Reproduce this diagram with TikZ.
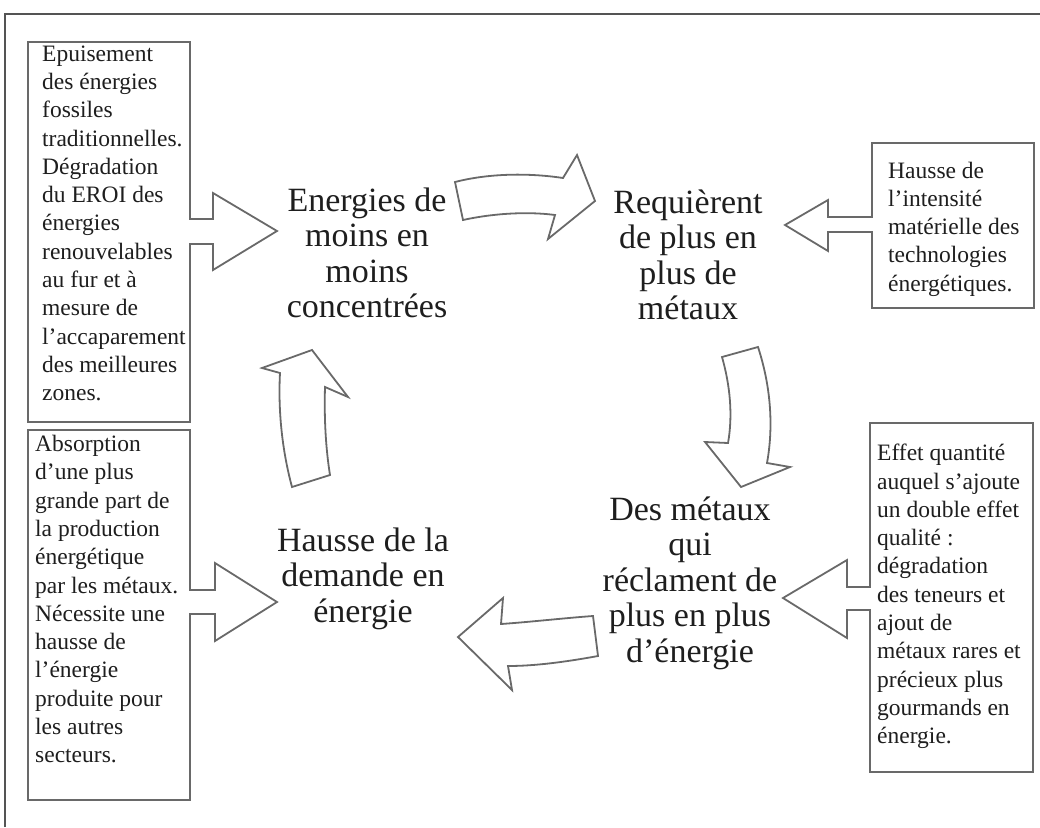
\documentclass[tikz,border=0pt]{standalone}
\usepackage{fontspec}
\setmainfont{Liberation Serif}
\definecolor{edge}{RGB}{105,105,105}
\definecolor{ink}{RGB}{30,30,30}
\tikzset{
  shapeline/.style={draw=edge, line width=1.8pt, fill=white, line join=miter},
  frameline/.style={draw=edge!80!black, line width=1.8pt},
  bigtext/.style={font=\fontsize{34}{35.5}\selectfont, align=center, text=ink, inner sep=0pt, anchor=north},
  smalltext/.style={font=\fontsize{23.5}{28.3}\selectfont, align=left, text=ink, inner sep=0pt, anchor=north west},
}
\begin{document}
\begin{tikzpicture}[x=1pt,y=-1pt]
\useasboundingbox (0,0) rectangle (1040,827);
% outer frame (top and left sides)
\draw[frameline] (5,827) -- (5,14) -- (1040,14);

% callout boxes
\draw[shapeline] (28,42) -- (190,42) -- (190,219) -- (213,219) -- (213,193) -- (277,231) -- (213,270) -- (213,244) -- (190,244) -- (190,422) -- (28,422) -- cycle;
\draw[shapeline] (28,430) -- (190,430) -- (190,590) -- (215,590) -- (215,563) -- (277,602) -- (215,641) -- (215,614) -- (190,614) -- (190,800) -- (28,800) -- cycle;
\draw[shapeline] (872,143) -- (1034,143) -- (1034,308) -- (872,308) -- (872,232) -- (828,232) -- (828,251) -- (785,225) -- (828,200) -- (828,217) -- (872,217) -- cycle;
\draw[shapeline] (870,423) -- (1033,423) -- (1033,772) -- (870,772) -- (870,610) -- (847,610) -- (847,638) -- (783,598) -- (847,560) -- (847,587) -- (870,587) -- cycle;

% cycle block arrows
\draw[shapeline] (455,182) .. controls (490,173) and (530,173) .. (563,178) -- (577,155) -- (595,201) -- (548,239) -- (555,215) .. controls (525,211) and (490,214) .. (463,220) -- cycle;
\draw[shapeline] (722,357) -- (758,347) .. controls (772,390) and (773,430) .. (767,463) -- (790,467) -- (741,487) -- (705,442) -- (728,443) .. controls (733,415) and (730,385) .. (722,357) -- cycle;
\draw[shapeline] (593,616) -- (598,656) .. controls (565,662) and (535,666) .. (508,666) -- (512,690) -- (458,637) -- (503,598) -- (501,624) .. controls (530,622) and (565,618) .. (593,616) -- cycle;
\draw[shapeline] (292,487) .. controls (282,450) and (278,410) .. (280,373) -- (262,368) -- (312,350) -- (348,397) -- (325,387) .. controls (324,420) and (326,450) .. (330,475) -- cycle;

% main texts
\node[bigtext] (energies) at (367,187.5) {Energies de\\moins en\\moins\\concentrées};
\node[bigtext] (requierent) at (688,189.5) {Requièrent\\de plus en\\plus de\\métaux};
\node[bigtext] (metaux) at (690,496.5) {Des métaux\\qui\\réclament de\\plus en plus\\d’énergie};
\node[bigtext] (hausse) at (363,527.5) {Hausse de la\\demande en\\énergie};

% box texts
\node[smalltext] (epuisement) at (42,45.4) {Epuisement\\des énergies\\fossiles\\traditionnelles.\\Dégradation\\du EROI des\\énergies\\renouvelables\\au fur et à\\mesure de\\l’accaparement\\des meilleures\\zones.};
\node[smalltext] (absorption) at (35,435) {Absorption\\d’une plus\\grande part de\\la production\\énergétique\\par les métaux.\\Nécessite une\\hausse de\\l’énergie\\produite pour\\les autres\\secteurs.};
\node[smalltext] (intensite) at (888,161.5) {Hausse de\\l’intensité\\matérielle des\\technologies\\énergétiques.};
\node[smalltext] (effet) at (877,444) {Effet quantité\\auquel s’ajoute\\un double effet\\qualité :\\dégradation\\des teneurs et\\ajout de\\métaux rares et\\précieux plus\\gourmands en\\énergie.};
\end{tikzpicture}
\end{document}
